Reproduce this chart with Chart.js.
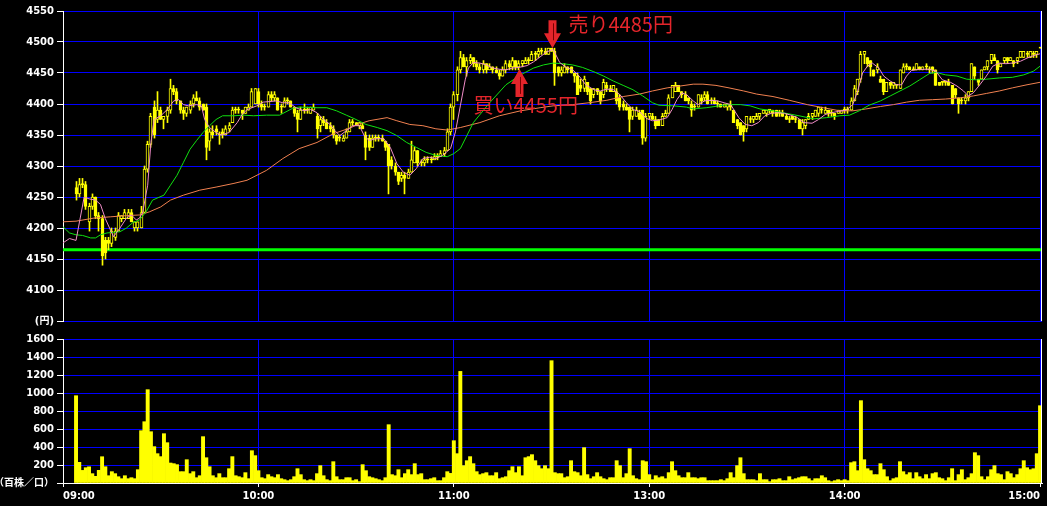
<!DOCTYPE html>
<html>
<head>
<meta charset="utf-8">
<script src="https://cdn.jsdelivr.net/npm/chart.js@4.4.0/dist/chart.umd.min.js"></script>
<style>
  html, body { margin: 0; padding: 0; background: #000; }
  #wrap { position: relative; width: 1047px; height: 506px; background: #000; overflow: hidden; }
  #kabuka { position: absolute; left: 0; top: 0; }
  #dekidaka { position: absolute; left: 0; top: 330px; }
</style>
</head>
<body>
<div id="wrap">
  <canvas id="kabuka" width="1047" height="330"></canvas>
  <canvas id="dekidaka" width="1047" height="176"></canvas>
</div>
<script>
// 1分足: 横軸は 09:00 からの分 (昼休み 11:30-12:30 は詰める)
const firstSlot = 4;
const hourSlots = [0, 60, 120, 180, 240, 300];
const hourLabels = ["09:00", "10:00", "11:00", "13:00", "14:00", "15:00"];

const opens = [
  4265,4255,4270,4270,4210,4235,4250,4220,4215,4180,
  4180,4175,4185,4195,4215,4215,4215,4225,4200,4200,
  4200,4225,4295,4335,4395,4375,4390,4375,4380,4390,
  4425,4420,4405,4390,4385,4390,4400,4410,4405,4400,
  4395,4340,4355,4360,4350,4355,4350,4360,4370,4390,
  4390,4390,4385,4390,4395,4400,4420,4400,4395,4395,
  4415,4410,4410,4395,4395,4405,4405,4395,4385,4375,
  4390,4390,4385,4390,4380,4365,4375,4370,4365,4360,
  4350,4345,4340,4345,4355,4370,4370,4365,4365,4350,
  4345,4330,4345,4345,4345,4340,4335,4310,4300,4290,
  4280,4285,4280,4290,4305,4325,4305,4305,4310,4310,
  4310,4315,4315,4320,4325,4355,4395,4415,4455,4475,
  4460,4470,4475,4465,4460,4455,4465,4455,4460,4455,
  4450,4445,4455,4465,4460,4470,4460,4465,4465,4470,
  4470,4480,4480,4485,4485,4480,4490,4485,4460,4450,
  4450,4460,4460,4450,4445,4430,4425,4435,4425,4415,
  4425,4420,4415,4430,4425,4420,4420,4410,4400,4395,
  4395,4380,4380,4385,4390,4345,4380,4380,4375,4375,
  4365,4380,4385,4410,4420,4430,4420,4415,4410,4400,
  4395,4395,4410,4410,4415,4405,4405,4400,4400,4395,
  4395,4400,4390,4375,4370,4365,4360,4375,4375,4375,
  4380,4385,4385,4390,4390,4390,4385,4385,4380,4375,
  4380,4375,4375,4360,4365,4375,4380,4380,4385,4390,
  4385,4390,4385,4385,4385,4385,4390,4390,4390,4405,
  4420,4440,4480,4475,4470,4455,4455,4440,4440,4420,
  4435,4430,4430,4425,4450,4460,4460,4455,4455,4460,
  4455,4460,4455,4460,4455,4435,4435,4435,4435,4430,
  4425,4410,4405,4405,4410,4420,4460,4440,4440,4455,
  4460,4470,4475,4470,4460,4470,4475,4470,4470,4470,
  4475,4475,4480,4475,4480,4480,4490
];
const highs = [
  4275,4280,4280,4275,4240,4255,4250,4225,4220,4185,
  4185,4200,4200,4225,4220,4230,4230,4230,4210,4210,
  4235,4300,4340,4385,4405,4420,4395,4380,4395,4440,
  4430,4425,4405,4395,4395,4405,4415,4420,4410,4400,
  4400,4360,4365,4365,4355,4360,4365,4370,4395,4395,
  4395,4390,4395,4400,4425,4425,4425,4405,4400,4420,
  4420,4420,4410,4400,4410,4410,4405,4395,4390,4395,
  4400,4395,4395,4400,4385,4380,4380,4375,4370,4365,
  4350,4350,4350,4360,4375,4375,4370,4370,4370,4355,
  4350,4350,4350,4350,4350,4340,4335,4315,4305,4290,
  4290,4290,4295,4340,4330,4325,4310,4315,4315,4315,
  4320,4320,4325,4330,4360,4400,4420,4460,4485,4480,
  4475,4480,4475,4470,4465,4470,4465,4465,4460,4460,
  4455,4460,4470,4470,4475,4470,4470,4470,4475,4475,
  4485,4485,4490,4490,4490,4490,4490,4490,4460,4460,
  4465,4460,4460,4450,4450,4440,4445,4435,4425,4425,
  4425,4420,4440,4435,4430,4430,4425,4415,4405,4400,
  4395,4395,4395,4390,4390,4385,4385,4385,4380,4375,
  4385,4390,4415,4430,4435,4430,4420,4420,4410,4405,
  4400,4415,4415,4420,4420,4410,4410,4405,4400,4400,
  4400,4405,4390,4375,4370,4365,4380,4380,4380,4385,
  4385,4390,4390,4390,4390,4390,4390,4390,4385,4380,
  4380,4380,4375,4375,4375,4385,4385,4390,4395,4395,
  4395,4390,4390,4385,4390,4390,4395,4395,4410,4430,
  4440,4485,4485,4475,4470,4455,4465,4445,4440,4435,
  4435,4435,4430,4455,4465,4465,4460,4460,4465,4460,
  4460,4465,4460,4460,4455,4435,4435,4435,4440,4430,
  4425,4410,4410,4415,4420,4465,4460,4440,4455,4460,
  4470,4480,4480,4470,4465,4475,4475,4475,4470,4475,
  4485,4485,4485,4485,4485,4485,4490
];
const lows = [
  4245,4250,4265,4230,4195,4230,4215,4195,4140,4150,
  4165,4170,4180,4195,4210,4215,4215,4210,4195,4195,
  4200,4225,4290,4330,4345,4370,4375,4360,4370,4385,
  4415,4400,4385,4375,4380,4385,4395,4405,4390,4390,
  4310,4325,4345,4350,4335,4345,4350,4355,4370,4385,
  4385,4375,4385,4390,4395,4400,4395,4390,4390,4395,
  4405,4405,4390,4385,4395,4400,4395,4380,4355,4375,
  4385,4385,4385,4390,4345,4355,4365,4360,4355,4345,
  4335,4340,4340,4345,4355,4365,4365,4360,4360,4310,
  4325,4330,4340,4340,4340,4325,4255,4295,4285,4270,
  4275,4255,4280,4290,4305,4300,4300,4300,4305,4305,
  4310,4310,4315,4315,4325,4350,4375,4405,4450,4460,
  4445,4465,4460,4455,4450,4450,4450,4455,4450,4450,
  4440,4445,4450,4455,4455,4455,4455,4460,4465,4465,
  4470,4470,4475,4480,4480,4480,4485,4430,4445,4445,
  4450,4450,4450,4435,4415,4420,4420,4415,4400,4410,
  4415,4400,4410,4420,4420,4420,4400,4390,4390,4390,
  4355,4375,4380,4375,4335,4340,4375,4375,4360,4365,
  4365,4380,4385,4410,4420,4420,4410,4405,4400,4380,
  4390,4395,4400,4405,4400,4400,4400,4395,4395,4395,
  4390,4390,4370,4360,4350,4340,4355,4370,4370,4375,
  4375,4385,4380,4385,4380,4380,4380,4380,4375,4370,
  4375,4370,4360,4350,4360,4375,4375,4380,4380,4385,
  4385,4380,4380,4375,4385,4385,4385,4385,4390,4405,
  4415,4435,4465,4460,4445,4445,4450,4435,4415,4420,
  4425,4425,4425,4425,4450,4455,4455,4455,4455,4455,
  4455,4455,4450,4450,4430,4430,4430,4430,4430,4400,
  4410,4385,4400,4400,4405,4420,4440,4430,4440,4455,
  4455,4465,4470,4450,4460,4465,4465,4470,4460,4465,
  4475,4475,4475,4475,4475,4475,4490
];
const closes = [
  4255,4270,4270,4235,4235,4250,4220,4215,4155,4160,
  4175,4195,4195,4220,4220,4225,4225,4210,4210,4210,
  4225,4295,4335,4380,4350,4390,4375,4380,4390,4425,
  4420,4405,4390,4385,4395,4400,4410,4405,4395,4390,
  4330,4355,4350,4355,4350,4350,4360,4365,4390,4390,
  4390,4385,4395,4395,4420,4425,4400,4395,4395,4415,
  4410,4415,4390,4395,4405,4405,4395,4385,4375,4390,
  4390,4390,4395,4395,4360,4375,4370,4360,4360,4350,
  4340,4345,4345,4355,4370,4370,4365,4370,4360,4330,
  4330,4345,4345,4345,4340,4330,4300,4300,4290,4275,
  4285,4280,4290,4310,4325,4305,4305,4310,4310,4310,
  4315,4315,4320,4325,4355,4395,4415,4455,4475,4460,
  4470,4475,4465,4460,4455,4465,4455,4460,4455,4450,
  4445,4455,4465,4460,4470,4460,4465,4470,4470,4470,
  4480,4480,4485,4485,4480,4490,4485,4450,4450,4455,
  4460,4455,4450,4445,4415,4425,4440,4420,4405,4425,
  4420,4405,4435,4425,4420,4430,4405,4395,4395,4390,
  4375,4390,4390,4375,4345,4380,4385,4375,4365,4365,
  4380,4385,4410,4430,4430,4420,4415,4405,4405,4390,
  4395,4415,4405,4415,4400,4405,4400,4400,4395,4400,
  4400,4395,4370,4365,4350,4355,4380,4375,4380,4380,
  4385,4390,4390,4390,4385,4380,4385,4380,4375,4375,
  4375,4375,4360,4370,4375,4380,4385,4390,4395,4390,
  4390,4385,4385,4380,4390,4390,4390,4390,4405,4425,
  4440,4480,4485,4465,4460,4445,4460,4435,4420,4435,
  4430,4435,4430,4455,4460,4460,4455,4455,4465,4455,
  4460,4460,4455,4455,4430,4430,4435,4435,4430,4400,
  4415,4400,4405,4410,4420,4465,4445,4435,4455,4460,
  4470,4480,4470,4455,4465,4475,4470,4475,4465,4475,
  4485,4485,4480,4485,4480,4485,4490
];
// 出来高 (百株)
const volumes = [
  970,230,140,170,180,104,74,141,292,181,
  81,126,104,70,48,81,48,59,48,148,
  581,681,1037,570,404,326,293,548,448,222,
  215,204,126,126,259,104,126,59,81,515,
  281,181,81,59,104,59,59,159,293,81,
  70,59,115,48,359,304,137,59,48,93,
  70,59,93,48,37,26,37,70,159,93,
  37,26,37,26,104,193,81,37,26,237,
  70,37,37,59,59,26,37,15,204,137,
  70,59,48,37,26,59,648,93,81,148,
  59,104,148,93,215,93,104,37,37,48,
  59,26,26,59,126,107,470,326,1240,193,
  248,293,215,126,93,104,115,81,81,115,
  48,59,70,137,181,115,181,81,281,293,
  315,248,193,159,193,159,1359,115,104,104,
  59,70,248,126,115,81,393,93,48,70,
  115,70,48,37,59,59,248,193,59,104,
  381,81,48,37,248,237,93,37,81,59,
  70,48,115,237,137,81,59,59,115,59,
  59,48,59,59,26,26,26,26,37,26,
  48,115,59,193,281,104,37,37,37,26,
  104,37,37,15,37,37,48,26,26,70,
  37,48,59,70,70,48,26,48,48,81,
  59,26,15,26,37,26,37,26,226,237,
  137,915,259,159,137,93,93,215,148,70,
  26,48,59,237,126,93,115,48,115,70,
  48,93,48,104,115,59,48,26,59,159,
  26,93,148,37,59,104,337,304,70,37,
  70,148,193,104,93,37,126,104,59,93,
  159,248,170,148,159,326,859
];

// 移動平均 [分, 円]
const maShort = [
  [0,4176],[2,4183],[4,4180],[6.5,4250],[8,4247],[10,4245],[11.5,4238],[13,4215],[15.5,4186],
  [17.5,4200],[19.5,4216],[21,4221],[22.5,4213],[23.5,4216],[24.5,4226],[26,4269],[27,4338],
  [28,4375],[30,4381],[32,4391],[34,4405],[35.5,4407],[37,4399],[38.5,4397],[41,4399],[42.5,4397],
  [43.5,4375],[45,4362],[47,4354],[48.5,4350],[51,4354],[53.5,4370],[55,4383],[56.5,4391],
  [59.5,4397],[61.5,4403],[63.5,4404],[65.5,4405],[67.5,4402],[69.5,4402],[71.5,4394],[74,4389],
  [76,4391],[78,4386],[80,4375],[82,4367],[83.5,4357],[85,4349],[87,4357],[89,4365],[91,4365],
  [92.5,4349],[94,4341],[96,4344],[98.5,4344],[100.5,4330],[102.5,4304],[104.5,4290],[106.5,4285],
  [108.5,4296],[110.5,4312],[112.5,4314],[114.5,4312],[116.5,4317],[119,4328],[120.5,4355],
  [122,4397],[123.5,4439],[124.5,4458],[126,4467],[128,4466],[130,4463],[132,4458],[134,4456],
  [136,4455],[138,4458],[140,4459],[142.5,4462],[144.5,4468],[146.5,4476],[148.5,4484],[150.5,4488],
  [152.5,4467],[154.5,4459],[156.5,4455],[158.5,4445],[160.5,4431],[163,4423],[165,4421],[167,4424],
  [169,4423],[171,4415],[173,4402],[175,4391],[177,4388],[179,4377],[181,4373],[183,4374],
  [185.5,4378],[187,4391],[188.5,4407],[190,4418],[191.5,4415],[193.5,4405],[195,4399],[197,4405],
  [199,4406],[201,4405],[203,4402],[205,4399],[207.5,4378],[209.5,4367],[211.5,4365],[213.5,4370],
  [215.5,4381],[217.5,4385],[219.5,4386],[221.5,4385],[223.5,4382],[225.5,4378],[227.5,4370],
  [230,4369],[232,4375],[234,4383],[236,4386],[238,4388],[240.5,4390],[242.5,4399],[244,4421],
  [245.5,4450],[247,4461],[248.5,4466],[250.5,4458],[252,4445],[254,4437],[256,4431],[257.5,4431],
  [259,4445],[260.5,4454],[263,4456],[266,4456],[268,4453],[270,4439],[272.5,4435],[274.5,4429],
  [276.5,4421],[278,4413],[279.5,4418],[281.5,4431],[283.5,4445],[285.5,4461],[287.5,4466],
  [289.5,4465],[291.5,4466],[294,4469],[296,4474],[298,4478],[300,4481]
];
const maMid = [
  [0,4202],[2,4192],[4,4189],[6,4188],[8.5,4184],[10,4184],[11.5,4189],[13.5,4192],[15.5,4193],
  [17.5,4194],[19.5,4200],[21.5,4209],[23.5,4213],[25.5,4226],[27.5,4245],[31,4253],[33,4269],
  [35,4285],[37,4306],[39,4327],[41,4341],[43,4354],[45,4365],[47,4375],[49,4381],[52.5,4381],
  [55.5,4382],[58.5,4381],[62.5,4382],[66.5,4382],[70.5,4393],[72.5,4395],[78,4394],[81,4394],
  [84,4389],[87,4382],[90,4375],[93,4367],[96.5,4362],[99.5,4357],[102.5,4349],[105.5,4338],
  [108.5,4330],[111.5,4322],[114.5,4317],[118,4315],[120,4320],[122,4328],[126,4370],[131,4402],
  [136,4431],[140.5,4447],[144.5,4458],[147.5,4463],[150.5,4466],[153.5,4465],[156.5,4463],
  [159.5,4459],[163,4452],[166,4445],[169,4437],[172,4430],[175,4423],[178,4413],[181,4402],
  [183,4398],[187.5,4397],[191.5,4395],[193.5,4392],[197.5,4394],[201.5,4397],[204.5,4399],
  [208,4399],[211,4397],[214,4392],[218,4389],[222,4385],[226,4381],[230.5,4376],[234.5,4378],
  [238.5,4381],[241.5,4382],[244.5,4389],[247.5,4398],[251,4405],[254,4413],[257,4421],[260,4429],
  [263,4439],[266,4449],[268,4451],[271,4447],[274.5,4445],[277.5,4440],[280.5,4439],[283.5,4440],
  [287.5,4442],[291.5,4443],[295,4447],[298,4453],[300,4461]
];
const maLong = [
  [0,4210],[4,4211],[9.5,4216],[14.5,4218],[19.5,4220],[23.5,4221],[26.5,4226],[30,4234],
  [33,4245],[37,4253],[42,4261],[47,4266],[52.5,4272],[56.5,4277],[62.5,4293],[67.5,4312],
  [72.5,4328],[78,4338],[83,4352],[88,4361],[91,4368],[94,4373],[99.5,4378],[102.5,4373],
  [106.5,4367],[110.5,4365],[114.5,4360],[118,4358],[122,4362],[128,4370],[134,4381],[140.5,4389],
  [146.5,4394],[150.5,4397],[156.5,4399],[161.5,4402],[167,4406],[172,4412],[177,4416],[181,4421],
  [185.5,4426],[189.5,4429],[193.5,4432],[196.5,4432],[200.5,4430],[204.5,4426],[209,4421],
  [213,4416],[218,4412],[223,4406],[228.5,4399],[233.5,4394],[238.5,4389],[242.5,4389],[246.5,4392],
  [251,4396],[255,4399],[259,4403],[263,4406],[267,4407],[271,4408],[275.5,4410],[279.5,4413],
  [283.5,4417],[287.5,4421],[291.5,4426],[296,4431],[300,4435]
];
const prevClose = 4165;

// 売買サイン
const signalSlots = [140, 150];
const signalPrices = [4455, 4485];
const signalTexts = ["買い4455円", "売り4485円"];
const signalSides = ["buy", "sell"];

Chart.defaults.font.family = "'DejaVu Sans', 'Noto Sans CJK JP', sans-serif";
Chart.defaults.font.size = 10;
Chart.defaults.font.weight = "bold";
Chart.defaults.color = "#ffffff";

const KIIRO = "#ffff00";
const AO = "#0000ff";
const SHIRO = "#ffffff";
const AKA = "#e4252b";

const slots = opens.map((_, i) => firstSlot + i);
const wicks = slots.map((s, i) => ({ x: s, y: [lows[i], highs[i]] }));
const bodies = slots.map((s, i) => ({ x: s, y: [opens[i], closes[i]] }));
const bodyFill = slots.map((s, i) => closes[i] > opens[i] ? "#000000" : KIIRO);
const volBars = slots.map((s, i) => ({ x: s, y: volumes[i] }));
const toPts = arr => arr.map(p => ({ x: p[0], y: p[1] }));

function hourTicks(scale) {
  scale.ticks = hourSlots.map(v => ({ value: v }));
}
function gridColor(ctx) {
  return ctx.tick && ctx.tick.value === 0 ? "rgba(0,0,0,0)" : AO;
}

// ローソク足をピクセルにそろえる
const snap = {
  id: "snap",
  beforeDatasetsDraw(chart) {
    chart.data.datasets.forEach((ds, i) => {
      if (!ds.candle) return;
      chart.getDatasetMeta(i).data.forEach(el => { el.x = Math.floor(el.x) + 0.5; });
    });
  }
};

const waku = {
  id: "waku",
  afterDraw(chart) {
    const { ctx, chartArea: a } = chart;
    ctx.save();
    ctx.strokeStyle = SHIRO;
    ctx.lineWidth = 1;
    ctx.beginPath();
    ctx.moveTo(Math.round(a.right) - 0.5, a.top);
    ctx.lineTo(Math.round(a.right) - 0.5, a.bottom);
    ctx.stroke();
    ctx.restore();
  }
};

const sain = {
  id: "sain",
  afterDatasetsDraw(chart) {
    const { ctx, scales } = chart;
    ctx.save();
    signalSlots.forEach((s, i) => {
      const px = Math.round(scales.x.getPixelForValue(s)) + 0.5;
      const py = scales.y.getPixelForValue(signalPrices[i]);
      const sell = signalSides[i] === "sell";
      const d = sell ? -1 : 1;
      const tip = sell ? py - 3 : py - 1;
      ctx.fillStyle = AKA;
      ctx.beginPath();
      ctx.moveTo(px, tip);
      ctx.lineTo(px + 8.5, tip + d * 15);
      ctx.lineTo(px + 4, tip + d * 15);
      ctx.lineTo(px + 4, tip + d * 28);
      ctx.lineTo(px - 4, tip + d * 28);
      ctx.lineTo(px - 4, tip + d * 15);
      ctx.lineTo(px - 8.5, tip + d * 15);
      ctx.closePath();
      ctx.fill();
      ctx.strokeStyle = "#7a0000";
      ctx.lineWidth = 1;
      ctx.beginPath();
      ctx.moveTo(px + 1, tip + d * 25);
      ctx.lineTo(px + 1, tip + d * 8);
      ctx.stroke();

      ctx.font = "20px 'Noto Sans CJK JP', sans-serif";
      ctx.textBaseline = "alphabetic";
      ctx.textAlign = "left";
      if (sell) ctx.fillText(signalTexts[i], px + 16, tip - 16);
      else ctx.fillText(signalTexts[i], px - 46, tip + 44);
    });
    ctx.restore();
  }
};

new Chart(document.getElementById("kabuka"), {
  type: "bar",
  data: {
    datasets: [
      { type: "line", data: toPts(maShort), borderColor: "#f08cc8", borderWidth: 1, pointRadius: 0, tension: 0, order: 1 },
      { type: "line", data: toPts(maMid), borderColor: "#10e010", borderWidth: 1, pointRadius: 0, tension: 0, order: 1 },
      { type: "line", data: toPts(maLong), borderColor: "#f08050", borderWidth: 1, pointRadius: 0, tension: 0, order: 1 },
      { candle: true, data: bodies, backgroundColor: bodyFill, borderColor: KIIRO, borderWidth: 1,
        borderSkipped: false, barThickness: 3, minBarLength: 1, grouped: false, order: 2 },
      { candle: true, data: wicks, backgroundColor: KIIRO, borderWidth: 0,
        barThickness: 1, minBarLength: 1, grouped: false, order: 3 },
      { type: "line", data: [{ x: 0, y: prevClose }, { x: 300.6, y: prevClose }],
        borderColor: "#00ff00", borderWidth: 3, pointRadius: 0, order: 5 }
    ]
  },
  options: {
    responsive: false,
    animation: false,
    events: [],
    layout: { padding: { top: 11, right: 5, bottom: 6, left: 0 } },
    plugins: { legend: { display: false }, tooltip: { enabled: false } },
    scales: {
      x: {
        type: "linear", min: 0, max: 300.6, offset: false,
        afterBuildTicks: hourTicks,
        afterFit: s => { s.height = 0; },
        ticks: { display: false },
        grid: { color: gridColor, offset: false, drawTicks: false },
        border: { display: false }
      },
      y: {
        min: 4050, max: 4550, beginAtZero: false,
        afterFit: s => { s.width = 63; },
        ticks: { stepSize: 50, padding: 3, color: SHIRO,
                 callback: v => v === 4050 ? "(円)" : String(v) },
        grid: { color: AO, tickColor: SHIRO, tickLength: 6 },
        border: { color: SHIRO }
      }
    }
  },
  plugins: [snap, waku, sain]
});

new Chart(document.getElementById("dekidaka"), {
  type: "bar",
  data: {
    datasets: [
      { data: volBars, backgroundColor: KIIRO, borderWidth: 0, barPercentage: 1, categoryPercentage: 1 }
    ]
  },
  options: {
    responsive: false,
    animation: false,
    events: [],
    layout: { padding: { top: 9, right: 5, bottom: 0, left: 0 } },
    plugins: { legend: { display: false }, tooltip: { enabled: false } },
    scales: {
      x: {
        type: "linear", min: 0, max: 300.6, offset: false,
        afterBuildTicks: hourTicks,
        afterFit: s => { s.height = 23; },
        ticks: { padding: 3, align: "inner", maxRotation: 0, autoSkip: false, color: SHIRO,
                 callback: v => hourLabels[hourSlots.indexOf(v)] },
        grid: { color: gridColor, offset: false, tickColor: SHIRO, tickLength: 4 },
        border: { color: SHIRO }
      },
      y: {
        min: 0, max: 1600,
        afterFit: s => { s.width = 63; },
        ticks: { stepSize: 200, padding: 3, color: SHIRO,
                 callback: v => v === 0 ? "（百株／口）" : String(v) },
        grid: { color: gridColor, tickColor: SHIRO, tickLength: 6 },
        border: { color: SHIRO }
      }
    }
  },
  plugins: [waku]
});
</script>
</body>
</html>
